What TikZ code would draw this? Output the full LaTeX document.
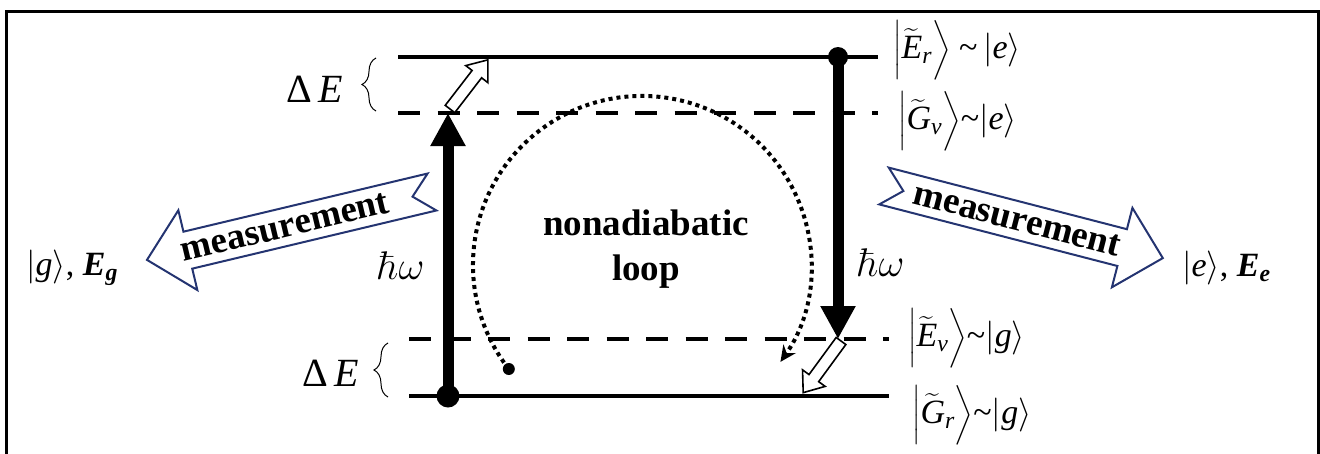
\RequirePackage{fix-cm}
\documentclass[tikz,border=0pt]{standalone}
\usepackage{amsmath}
\usepackage[no-math]{fontspec}
\setmainfont{Liberation Serif}
\usetikzlibrary{arrows.meta, decorations.pathreplacing}
\definecolor{measblue}{RGB}{36,52,113}

\begin{document}
\begin{tikzpicture}[x=1pt, y=-1pt,
  every node/.style={inner sep=0pt},
  rung/.style={line width=4pt},
  virtual/.style={line width=4pt, dash pattern=on 22pt off 17.5pt},
  photon/.style={line width=11pt, -{Triangle[length=33pt, width=33pt]}},
  relax/.style={draw=black, fill=white, line width=1.6pt},
  measarrow/.style={draw=measblue, fill=white, line width=2pt},
  loopline/.style={line width=4pt, dash pattern=on 4pt off 4pt, -{Stealth[length=16pt, width=15pt]}},
  ket/.style={anchor=west, font=\fontsize{34}{40}\selectfont},
  boldlabel/.style={align=center, font=\fontsize{37}{45}\selectfont\bfseries},
  gap/.style={decorate, decoration={brace, amplitude=14pt}, line width=1pt}]
  \clip (0,0) rectangle (1320,453);
  \draw[line width=3pt] (6.5,470) |- (1318.5,11.5) -- (1318.5,470);

  \coordinate (Er-w) at (398,57);  \coordinate (Er-e) at (878,57);
  \coordinate (Gv-w) at (398,113); \coordinate (Gv-e) at (878,113);
  \coordinate (Ev-w) at (409,339); \coordinate (Ev-e) at (889,339);
  \coordinate (Gr-w) at (409,396); \coordinate (Gr-e) at (889,396);
  \draw[rung] (Er-w) -- (Er-e);
  \draw[virtual] (Gv-w) -- (Gv-e);
  \draw[virtual] (Ev-w) -- (Ev-e);
  \draw[rung] (Gr-w) -- (Gr-e);

  \node[ket] (Er) at (893,50) {$\Bigl|\widetilde{\textit{E}}_{\textit{r}}\Bigr\rangle$ \textasciitilde\,$|\textit{e}\rangle$};
  \node[ket] (Gv) at (898,121) {$\Bigl|\widetilde{\textit{G}}_{\textit{v}}\Bigr\rangle$\textasciitilde$|\textit{e}\rangle$};
  \node[ket] (Ev) at (908,338) {$\Bigl|\widetilde{\textit{E}}_{\textit{v}}\Bigr\rangle$\textasciitilde$|\textit{g}\rangle$};
  \node[ket] (Gr) at (912,415) {$\Bigl|\widetilde{\textit{G}}_{\textit{r}}\Bigr\rangle$\textasciitilde$|\textit{g}\rangle$};

  \draw[gap] (376,111) -- (376,58);
  \draw[gap] (388,397) -- (388,343);
  \node[font=\fontsize{40}{48}\selectfont] (dEup) at (315,89) {Δ\,\textit{E}};
  \node[font=\fontsize{40}{48}\selectfont] (dEdown) at (331,373) {Δ\,\textit{E}};

  \coordinate (up-s) at (448,396); \coordinate (up-e) at (448,113);
  \coordinate (dn-s) at (838,57);  \coordinate (dn-e) at (838,339);
  \draw[photon] (up-s) -- (up-e);
  \fill (up-s) circle (11.5);
  \draw[photon] (dn-s) -- (dn-e);
  \fill (dn-s) circle (10);
  \node[font=\fontsize{40}{48}\selectfont] (hwL) at (401,266) {$\hbar\omega$};
  \node[font=\fontsize{40}{48}\selectfont] (hwR) at (881,263) {$\hbar\omega$};

  \begin{scope}[shift={(450,109)}, rotate=52.4]
    \draw[relax] (0,-6) -- (44,-6) -- (44,-14) -- (62,0) -- (44,14) -- (44,6) -- (0,6) -- cycle;
  \end{scope}
  \begin{scope}[shift={(841,341)}, rotate=-126.2]
    \draw[relax] (0,-6) -- (46,-6) -- (46,-14) -- (64,0) -- (46,14) -- (46,6) -- (0,6) -- cycle;
  \end{scope}

  \coordinate (loop-s) at (508.8,369);
  \fill (loop-s) circle (6);
  \draw[loopline] (loop-s) arc[start angle=142, end angle=395, radius=169];
  \node[boldlabel] (nal) at (646,249) {nonadiabatic\\loop};

  \begin{scope}[shift={(432,192)}, rotate=193.4]
    \draw[measarrow] (0,-19) -- (251,-19) -- (251,-41) -- (293,0) -- (251,41) -- (251,19) -- (0,19) -- (20,0) -- cycle;
  \end{scope}
  \begin{scope}[shift={(884,186)}, rotate=-14.5]
    \draw[measarrow] (0,-19) -- (246,-19) -- (246,-41) -- (288,0) -- (246,41) -- (246,19) -- (0,19) -- (20,0) -- cycle;
  \end{scope}
  \node[boldlabel, rotate=13.4] (measL) at (285,227) {measurement};
  \node[boldlabel, rotate=-14.5] (measR) at (1017,220) {measurement};

  \node[ket] (gEg) at (26,268) {$|\textit{g}\rangle$, \textbf{\textit{E}}$_{\textbf{\textit{g}}}$};
  \node[ket] (eEe) at (1182,268) {$|\textit{e}\rangle$, \textbf{\textit{E}}$_{\textbf{\textit{e}}}$};
\end{tikzpicture}
\end{document}
